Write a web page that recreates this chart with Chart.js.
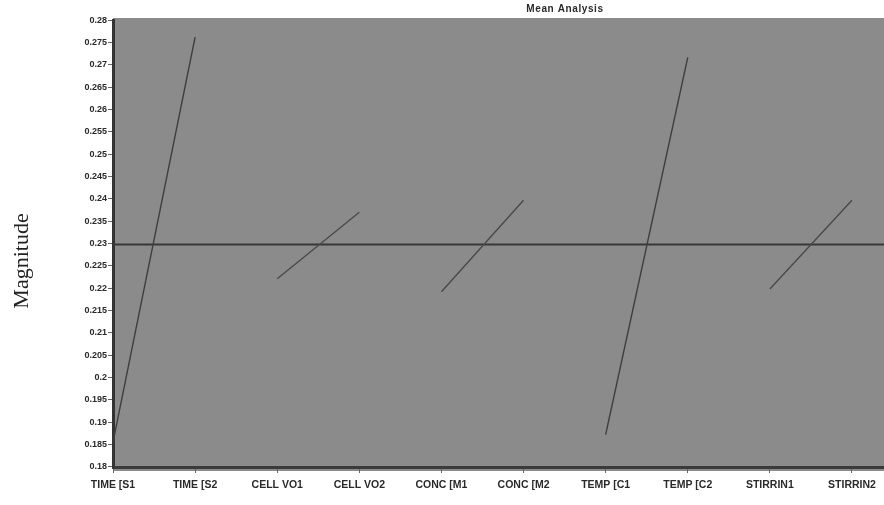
<!DOCTYPE html>
<html>
<head>
<meta charset="utf-8">
<script src="https://cdn.jsdelivr.net/npm/chart.js@4.4.0/dist/chart.umd.min.js"></script>
<style>
html,body{margin:0;padding:0;background:#fff;}
#wrap{width:884px;height:505px;}
</style>
</head>
<body>
<div id="wrap"><canvas id="c" width="884" height="505"></canvas></div>
<script>
// ---- data ----
const categories = ["TIME [S1","TIME [S2","CELL VO1","CELL VO2","CONC [M1","CONC [M2","TEMP [C1","TEMP [C2","STIRRIN1","STIRRIN2"];
const meanValues = [0.1855, 0.2762, 0.2221, 0.2370, 0.2192, 0.2397, 0.1872, 0.2717, 0.2198, 0.2397];
const grandMean = 0.2298;
const yTicks = [0.18,0.185,0.19,0.195,0.2,0.205,0.21,0.215,0.22,0.225,0.23,0.235,0.24,0.245,0.25,0.255,0.26,0.265,0.27,0.275,0.28];
const chartTitle = "Mean Analysis";
const yTitle = "Magnitude";

const X_MAX = 9.39;
const datasets = [];
for (let i = 0; i < meanValues.length; i += 2) {
  datasets.push({
    data: [{x: i, y: meanValues[i]}, {x: i + 1, y: meanValues[i + 1]}],
    borderColor: (i === 0 || i === 6) ? '#3e3e3e' : '#4a4a4a',
    borderWidth: 1.4,
    pointRadius: 0,
    tension: 0
  });
}
datasets.push({
  data: [{x: 0, y: grandMean}, {x: X_MAX, y: grandMean}],
  borderColor: '#383838',
  borderWidth: 2,
  pointRadius: 0
});

const bgPlugin = {
  id: 'bg',
  beforeDraw(chart) {
    const {ctx, chartArea: a} = chart;
    ctx.save();
    ctx.fillStyle = '#8b8b8b';
    ctx.fillRect(a.left, a.top - 2, a.right - a.left, a.bottom - a.top + 6);
    ctx.restore();
  },
  afterDraw(chart) {
    const {ctx} = chart;
    ctx.save();
    ctx.fillStyle = '#2a2a2a';
    ctx.font = 'bold 10px "Liberation Sans", Arial, sans-serif';
    ctx.textAlign = 'center';
    ctx.textBaseline = 'middle';
    try { ctx.letterSpacing = '0.6px'; } catch (e) {}
    ctx.fillText(chartTitle, 565, 9);
    ctx.restore();

    ctx.save();
    try { ctx.letterSpacing = '0px'; } catch (e) {}
    ctx.translate(22, 261);
    ctx.rotate(-Math.PI / 2);
    ctx.fillStyle = '#222';
    ctx.font = '22px "Liberation Serif", "Times New Roman", serif';
    ctx.textAlign = 'center';
    ctx.textBaseline = 'middle';
    ctx.fillText(yTitle, 0, 0);
    ctx.restore();
  }
};

new Chart(document.getElementById('c'), {
  type: 'line',
  data: {datasets},
  plugins: [bgPlugin],
  options: {
    responsive: false,
    animation: false,
    layout: {padding: {top: 20, right: 0, left: 0, bottom: 0}},
    plugins: {legend: {display: false}, tooltip: {enabled: false}, title: {display: false}},
    scales: {
      x: {
        type: 'linear',
        min: 0,
        max: X_MAX,
        afterBuildTicks(scale) { scale.ticks = categories.map((_, i) => ({value: i})); },
        afterFit(scale) { scale.height = 38; },
        ticks: {
          callback: (v) => categories[v] ?? '',
          autoSkip: false,
          maxRotation: 0,
          color: '#2a2a2a',
          font: {family: '"Liberation Sans", Arial, sans-serif', size: 10.5, weight: 'bold'},
          padding: 6
        },
        grid: {display: true, drawOnChartArea: false, drawTicks: true, tickLength: 6, color: '#666'},
        border: {display: true, color: '#3a3a3a', width: 3}
      },
      y: {
        type: 'linear',
        min: 0.17995,
        max: 0.28005,
        afterBuildTicks(scale) { scale.ticks = yTicks.map(v => ({value: v})); },
        afterFit(scale) { scale.width = 113; },
        ticks: {
          callback: (v) => String(+v.toFixed(3)),
          color: '#2a2a2a',
          font: {family: '"Liberation Sans", Arial, sans-serif', size: 9, weight: 'bold'},
          padding: 1
        },
        title: {display: false},
        grid: {display: true, drawOnChartArea: false, drawTicks: true, tickLength: 5, color: '#666'},
        border: {display: true, color: '#333', width: 3}
      }
    }
  }
});
</script>
</body>
</html>
